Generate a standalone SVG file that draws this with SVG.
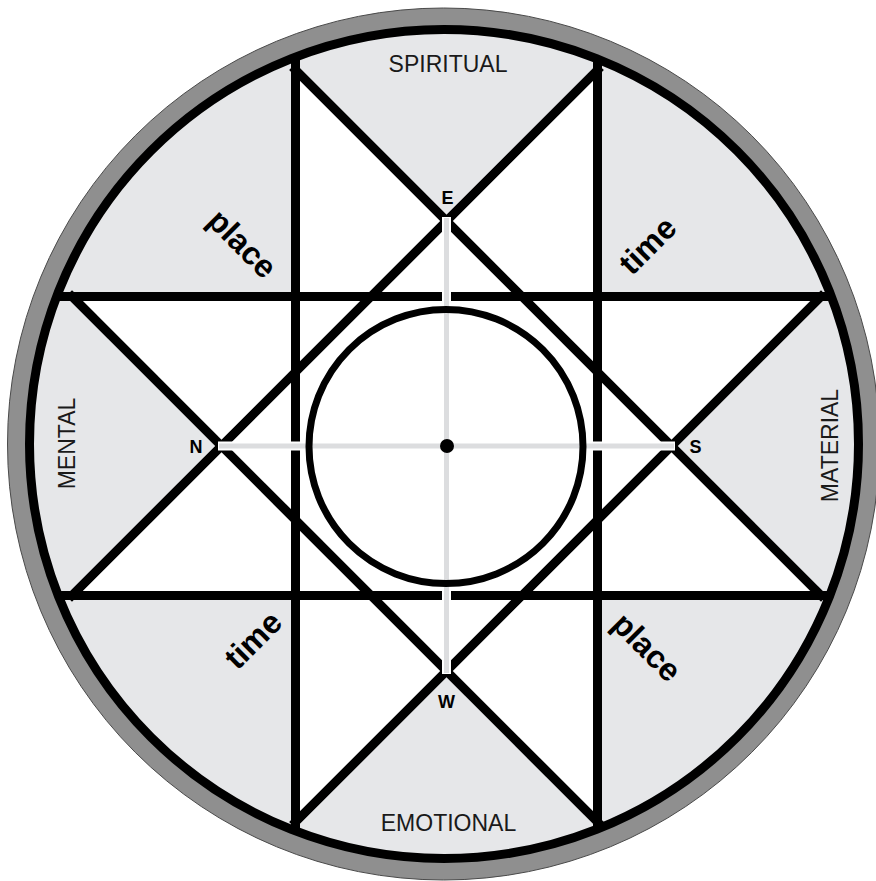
<svg xmlns="http://www.w3.org/2000/svg" width="876" height="881" viewBox="0 0 876 881">
  <style>
    .ln { stroke: #000; stroke-width: 9; fill: none; stroke-linecap: butt; }
    .dg { stroke: #000; stroke-width: 9; fill: none; stroke-linecap: square; }
    .area { font-family: "Liberation Sans", Arial, sans-serif; font-size: 23px; fill: #1a1a1a; text-anchor: middle; }
    .pt { font-family: "Liberation Sans", Arial, sans-serif; font-size: 18px; font-weight: bold; fill: #000; text-anchor: middle; }
    .word { font-family: "Liberation Sans", Arial, sans-serif; font-size: 32px; font-weight: bold; fill: #000; text-anchor: middle; }
  </style>
  <defs>
    <clipPath id="disk">
      <circle cx="444" cy="444" r="412"/>
    </clipPath>
  </defs>
  <g id="background">
    <circle cx="443.5" cy="444" r="436" fill="#8f8f8f" stroke="#4a4a4a" stroke-width="1"/>
    <circle cx="444" cy="444" r="414" fill="#e6e7e9"/>
  </g>
  <g id="star" clip-path="url(#disk)">
    <polygon fill="#fff" points="295.5,70 446.5,221 597.5,70 597.5,296.5 821,296.5 671.5,446 821,595.5 597.5,595.5 597.5,822 446.5,671 295.5,822 295.5,595.5 72,595.5 221.5,446 72,296.5 295.5,296.5"/>
    <line class="ln" x1="295.5" y1="20" x2="295.5" y2="870"/>
    <line class="ln" x1="597.5" y1="20" x2="597.5" y2="870"/>
    <line class="ln" x1="20" y1="296.5" x2="870" y2="296.5"/>
    <line class="ln" x1="20" y1="595.5" x2="870" y2="595.5"/>
    <line class="dg" x1="295.5" y1="70" x2="821" y2="595.5"/>
    <line class="dg" x1="597.5" y1="70" x2="72" y2="595.5"/>
    <line class="dg" x1="72" y1="296.5" x2="597.5" y2="822"/>
    <line class="dg" x1="821" y1="296.5" x2="295.5" y2="822"/>
  </g>
  <g id="crosshair">
    <line x1="446.5" y1="217" x2="446.5" y2="674" stroke="#fff" stroke-width="9"/>
    <line x1="218" y1="446" x2="675" y2="446" stroke="#fff" stroke-width="9"/>
    <line x1="446.5" y1="218" x2="446.5" y2="673" stroke="#dcdddf" stroke-width="5"/>
    <line x1="219" y1="446" x2="674" y2="446" stroke="#dcdddf" stroke-width="5"/>
  </g>
  <g id="inner-circle">
    <circle cx="446" cy="446.5" r="137" fill="none" stroke="#000" stroke-width="7"/>
    <circle cx="447" cy="446" r="7" fill="#000"/>
  </g>
  <g id="ring">
    <circle cx="444" cy="444" r="414.5" fill="none" stroke="#000" stroke-width="9"/>
  </g>
  <g id="areas">
    <text class="area" x="448" y="72">SPIRITUAL</text>
    <text class="area" x="448.5" y="831">EMOTIONAL</text>
    <text class="area" transform="translate(75,443.5) rotate(-90)">MENTAL</text>
    <text class="area" transform="translate(838,445.5) rotate(-90)">MATERIAL</text>
  </g>
  <g id="points">
    <text class="pt" x="447.5" y="203.5">E</text>
    <text class="pt" x="196" y="453">N</text>
    <text class="pt" x="695.5" y="453">S</text>
    <text class="pt" x="446.5" y="708">W</text>
  </g>
  <g id="words">
    <text class="word" transform="translate(241,245) rotate(45)" y="9">place</text>
    <text class="word" transform="translate(647.5,245.5) rotate(-45)" y="11">time</text>
    <text class="word" transform="translate(253,640) rotate(-45)" y="11">time</text>
    <text class="word" transform="translate(645.5,648.5) rotate(45)" y="9">place</text>
  </g>
</svg>
